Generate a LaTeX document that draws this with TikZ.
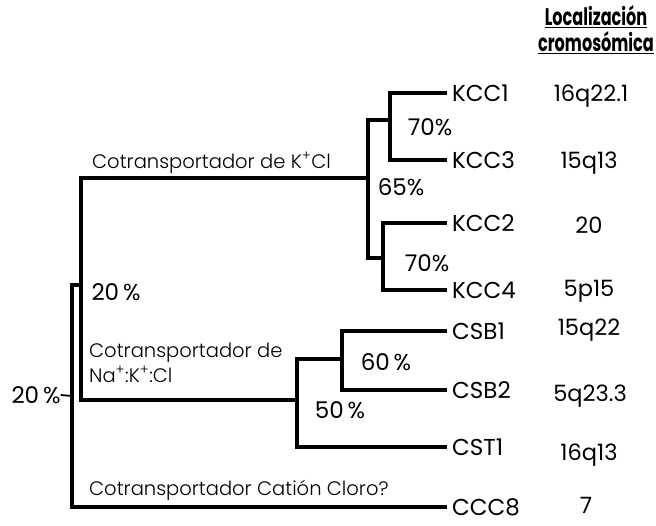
\documentclass[tikz,border=0pt]{standalone}
\usepackage{fontspec}
\setmainfont{Poppins}
\newfontfamily\lightfont{Poppins Light}
\usepackage{graphicx}
\usetikzlibrary{positioning}
\tikzset{
  x=1pt, y=-1pt,
  branch/.style = {line width=3.2pt, line join=miter},
  leaf/.style   = {anchor=west, inner xsep=5pt, inner ysep=0pt,
                   text height=16pt, text depth=0pt,
                   font=\fontsize{23}{26}\selectfont},
  locus/.style  = {inner sep=0pt, text height=16pt, text depth=0pt,
                   font=\fontsize{22.5}{26}\selectfont},
  pct/.style    = {inner sep=0pt, text height=16pt, text depth=0pt,
                   font=\fontsize{23}{26}\selectfont},
  fam/.style    = {anchor=west, inner sep=0pt, text height=14pt, text depth=0pt,
                   font=\lightfont\fontsize{19.5}{25}\selectfont},
  head/.style   = {align=center, inner sep=0pt,
                   font=\bfseries\fontsize{24}{26}\selectfont}
}
\newcommand{\headline}[1]{\scalebox{0.67}[1]{\underline{#1}}}

\begin{document}
\begin{tikzpicture}
  \useasboundingbox (0,0) rectangle (656,525);

  % ── Header ────────────────────────────────────────────────────────────────
  \node[head, anchor=north] (head) at (596,5)
        {\headline{Localización}\\ \headline{cromosómica}};

  % ── Leaves ────────────────────────────────────────────────────────────────
  \node[leaf] (kcc1) at (447,93)  {KCC1};
  \node[leaf] (kcc3) at (447,160) {KCC3};
  \node[leaf] (kcc2) at (447,223) {KCC2};
  \node[leaf] (kcc4) at (447,290) {KCC4};
  \node[leaf] (csb1) at (447,331) {CSB1};
  \node[leaf] (csb2) at (447,390) {CSB2};
  \node[leaf] (cst1) at (447,447) {CST1};
  \node[leaf] (ccc8) at (447,507) {CCC8};

  % ── Chromosome loci ───────────────────────────────────────────────────────
  \node[locus] (loc1) at (591,93)  {16q22.1};
  \node[locus] (loc3) at (589,160) {15q13};
  \node[locus] (loc2) at (589,225) {20};
  \node[locus] (loc4) at (589,288) {5p15};
  \node[locus] (loc5) at (589,327) {15q22};
  \node[locus] (loc6) at (590,393) {5q23.3};
  \node[locus] (loc7) at (589,452) {16q13};
  \node[locus] (loc8) at (586,505) {7};

  % ── Internal joints ───────────────────────────────────────────────────────
  \coordinate (n1) at (390,120);   % KCC1 / KCC3
  \coordinate (n2) at (383,258);   % KCC2 / KCC4
  \coordinate (n3) at (368,178);   % K-Cl group
  \coordinate (n4) at (342,359);   % CSB1 / CSB2
  \coordinate (n5) at (297,400);   % Na-K-Cl group
  \coordinate (n6) at (81,285);    % cation-chloride
  \coordinate (n7) at (72,396);    % root

  % ── Branches ──────────────────────────────────────────────────────────────
  \draw[branch] (kcc1.west) -| (n1) |- (kcc3.west);
  \draw[branch] (kcc2.west) -| (n2) |- (kcc4.west);
  \draw[branch] (n1) -| (n3) |- (n2);
  \draw[branch] (csb1.west) -| (n4) |- (csb2.west);
  \draw[branch] (n4) -| (n5) |- (cst1.west);
  \draw[branch] (n3) -| (n6) |- (n5);
  \draw[branch] (n6) -| (n7) |- (ccc8.west);

  % ── Percentages ───────────────────────────────────────────────────────────
  \node[pct] (p1) at (430,127) {70\%};
  \node[pct] (p2) at (427,263) {70\%};
  \node[pct] (p3) at (401,187) {65\%};
  \node[pct] (p4) at (386,362) {60\,\%};
  \node[pct] (p5) at (340,410) {50\,\%};
  \node[pct] (p6) at (116,292) {20\,\%};
  \node[pct] (p7) at (36,395)  {20\,\%};
  \draw[line width=1.8pt] (p7.east) -- (n7);

  % ── Family names ──────────────────────────────────────────────────────────
  \node[fam] (kcl)  at (92,161) {Cotransportador de K\textsuperscript{+}Cl};
  \node[fam, align=left, anchor=base west, text height=, text depth=] (nkcl)
        at (89,382) {Cotransportador de\\Na\textsuperscript{+}:K\textsuperscript{+}:Cl};
  \node[fam] (ccc)  at (89,488) {Cotransportador Catión Cloro?};

\end{tikzpicture}
\end{document}
